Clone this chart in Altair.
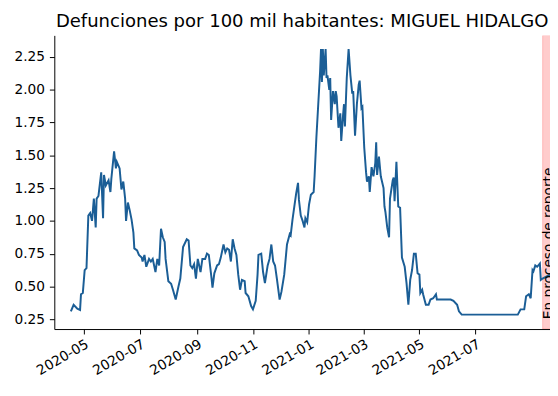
import altair as alt
import pandas as pd

# Days after 2020-05-01 and the value read at each day
days = [-14, -11, -7, -4, -3, -1, 1, 3, 5, 7, 9, 11, 13, 14, 16, 19, 21, 22, 24, 27,
        29, 30, 33, 35, 36, 39, 41, 43, 45, 46, 48, 50, 52, 54, 55, 58, 60, 63, 64, 66,
        68, 71, 73, 75, 78, 80, 82, 84, 86, 88, 89, 92, 95, 97, 100, 103, 105, 108, 112, 114,
        116, 118, 120, 122, 124, 127, 129, 132, 134, 136, 139, 140, 142, 145, 147, 149, 152, 154, 156, 158,
        160, 162, 164, 166, 168, 170, 172, 175, 176, 179, 182, 184, 187, 189, 190, 193, 195, 197, 200, 202,
        204, 206, 208, 210, 213, 215, 218, 221, 224, 225, 227, 229, 231, 233, 234, 236, 238, 240, 241, 243,
        245, 247, 250, 251, 253, 255, 257, 258, 259, 260, 261, 263, 264, 265, 267, 268, 269, 271, 273, 274,
        275, 277, 279, 280, 282, 283, 284, 286, 288, 290, 292, 293, 295, 297, 299, 300, 302, 303, 305, 307,
        308, 310, 311, 313, 315, 317, 318, 319, 321, 323, 324, 326, 327, 328, 330, 332, 333, 336, 337, 338,
        340, 342, 344, 346, 349, 351, 353, 355, 357, 359, 361, 363, 365, 366, 368, 369, 372, 375, 377, 380,
        383, 384, 388, 393, 399, 402, 406, 408, 411, 472, 475, 479, 481, 484, 486, 488, 489, 491, 493, 496,
        497, 499, 507]

values = [0.31, 0.36, 0.33, 0.32, 0.44, 0.45, 0.625, 0.64, 1.04, 1.06, 1.00, 1.17, 0.95, 1.17, 1.19, 1.37, 1.02, 1.35, 1.27, 1.31,
          1.22, 1.32, 1.53, 1.40, 1.45, 1.40, 1.24, 1.30, 1.17, 1.00, 1.14, 1.08, 1.01, 0.91, 0.79, 0.775, 0.74, 0.72, 0.69, 0.74,
          0.65, 0.71, 0.69, 0.71, 0.61, 0.71, 0.66, 0.94, 0.875, 0.84, 0.71, 0.54, 0.52, 0.475, 0.40, 0.50, 0.56, 0.80, 0.86, 0.85,
          0.66, 0.64, 0.67, 0.56, 0.71, 0.61, 0.71, 0.71, 0.75, 0.74, 0.56, 0.49, 0.60, 0.66, 0.67, 0.72, 0.82, 0.76, 0.79, 0.78,
          0.69, 0.86, 0.79, 0.74, 0.59, 0.475, 0.55, 0.54, 0.45, 0.425, 0.35, 0.325, 0.39, 0.59, 0.74, 0.75, 0.61, 0.525, 0.66, 0.71,
          0.82, 0.69, 0.66, 0.56, 0.40, 0.46, 0.59, 0.82, 0.90, 0.89, 1.01, 1.11, 1.21, 1.29, 1.16, 1.04, 1.00, 0.95, 1.02, 0.99,
          1.125, 1.20, 1.22, 1.34, 1.64, 1.89, 2.14, 2.31, 2.06, 2.31, 2.11, 2.31, 2.09, 2.11, 2.00, 2.09, 1.77, 1.99, 1.89, 1.99,
          1.95, 1.71, 1.82, 1.61, 1.81, 1.89, 1.72, 2.09, 2.31, 2.11, 1.97, 1.99, 1.65, 1.89, 2.04, 2.07, 1.86, 1.87, 1.56, 1.37,
          1.30, 1.34, 1.22, 1.41, 1.34, 1.44, 1.60, 1.35, 1.49, 1.34, 1.31, 1.25, 1.11, 1.07, 0.95, 0.875, 1.17, 1.31, 1.33, 1.15,
          1.45, 1.11, 1.10, 0.72, 0.65, 0.525, 0.36, 0.55, 0.625, 0.75, 0.75, 0.60, 0.59, 0.45, 0.475, 0.44, 0.36, 0.36, 0.40, 0.41,
          0.44, 0.40, 0.40, 0.40, 0.40, 0.39, 0.36, 0.31, 0.285, 0.285, 0.325, 0.325, 0.425, 0.44, 0.41, 0.625, 0.615, 0.66, 0.65, 0.675,
          0.55, 0.56, 0.59]

y_ticks = [0.25, 0.50, 0.75, 1.00, 1.25, 1.50, 1.75, 2.00, 2.25]
x_tick_months = [(2020, 5), (2020, 7), (2020, 9), (2020, 11), (2021, 1), (2021, 3), (2021, 5), (2021, 7)]

band_start = "2021-09-12"
band_end = "2021-09-30"
band_label = "En proceso de reporte"
title_text = "Defunciones por 100 mil habitantes: MIGUEL HIDALGO"

base = pd.Timestamp("2020-05-01")
df = pd.DataFrame({"fecha": base + pd.to_timedelta(days, unit="D"), "valor": values})
band_df = pd.DataFrame({"ini": [pd.Timestamp(band_start)], "fin": [pd.Timestamp(band_end)]})
text_df = pd.DataFrame({"fecha": [pd.Timestamp(band_start)], "valor": [0.25], "t": [band_label]})

FONT = "DejaVu Sans"
Y_MIN, Y_MAX = 0.175, 2.415
x_scale = alt.Scale(domain=[alt.DateTime(year=2020, month=3, date=30),
                            alt.DateTime(year=2021, month=9, date=20)])
y_scale = alt.Scale(domain=[Y_MIN, Y_MAX], nice=False, zero=False)

x_axis = alt.Axis(
    values=[alt.DateTime(year=y, month=m, date=1) for y, m in x_tick_months],
    format="%Y-%m", labelAngle=330, labelAlign="right", labelBaseline="top",
    labelFont=FONT, labelFontSize=13.9, labelColor="black", labelPadding=3,
    tickSize=5, tickColor="black", domainColor="black", grid=False, title=None,
    labelOverlap=False,
)
y_axis = alt.Axis(
    values=y_ticks, format=".2f", labelFont=FONT, labelFontSize=13.9, labelColor="black",
    labelPadding=5, tickSize=5, tickColor="black", domainColor="black", grid=False, title=None,
    labelOverlap=False,
)

band = alt.Chart(band_df).mark_rect(
    clip=True, fill="#ff0000", fillOpacity=0.2, stroke="#ff0000", strokeOpacity=0.2, strokeWidth=1
).encode(
    x=alt.X("ini:T", scale=x_scale, axis=x_axis),
    x2="fin:T",
    y=alt.datum(Y_MIN, scale=y_scale, axis=y_axis),
    y2=alt.datum(Y_MAX),
)

line = alt.Chart(df).mark_line(clip=True, color="#1b5e96", strokeWidth=2).encode(
    x=alt.X("fecha:T", scale=x_scale, axis=x_axis),
    y=alt.Y("valor:Q", scale=y_scale, axis=y_axis),
)

label = alt.Chart(text_df).mark_text(
    angle=270, align="left", baseline="top", font=FONT, fontSize=13.9, color="black", clip=True
).encode(
    x=alt.X("fecha:T", scale=x_scale, axis=x_axis),
    y=alt.Y("valor:Q", scale=y_scale, axis=y_axis),
    text="t:N",
)

chart = alt.layer(band, line, label).properties(
    width=503,
    height=298,
    background="white",
    title=alt.TitleParams(title_text, font=FONT, fontSize=18.3, fontWeight="normal",
                          color="black", anchor="middle", frame="group", offset=4),
    padding={"left": 6, "top": 1, "right": 0, "bottom": 4},
).configure_view(stroke=None)

chart.save("out.html", embed_options={"renderer": "svg", "actions": False})
